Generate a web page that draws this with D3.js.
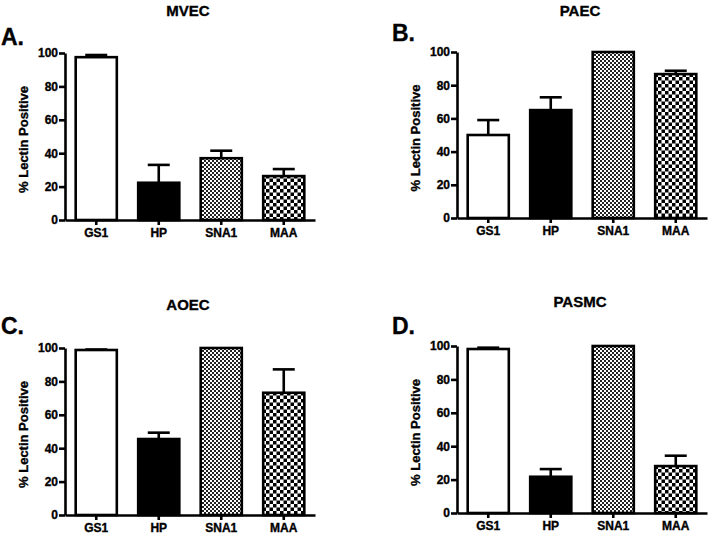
<!DOCTYPE html>
<html>
<head>
<meta charset="utf-8">
<script src="https://cdn.jsdelivr.net/npm/d3@7"></script>
<style>
  html, body { margin: 0; padding: 0; background: #fff; }
  svg { display: block; font-family: "Liberation Sans", Arial, Helvetica, sans-serif; font-weight: bold; }
  svg text { font-weight: bold; stroke: #000; stroke-width: 0.35px; fill: #000; }
</style>
</head>
<body>
<svg id="chart" width="709" height="535"></svg>
<script>
// ---- data ----
const categories = ["GS1", "HP", "SNA1", "MAA"];
const yTicks = [0, 20, 40, 60, 80, 100];
const panelTitles = ["MVEC", "PAEC", "AOEC", "PASMC"];
const panelLetters = ["A.", "B.", "C.", "D."];
const yLabel = "% Lectin Positive";

const mvecMeans  = [97.5, 22.3, 37.0, 26.3];
const mvecErr    = [1.3, 10.7, 4.5, 4.2];
const paecMeans  = [50.0, 65.0, 100.0, 86.7];
const paecErr    = [9.0, 7.7, 0, 2.0];
const aoecMeans  = [98.8, 45.5, 100.0, 73.2];
const aoecErr    = [0.3, 3.8, 0, 14.0];
const pasmcMeans = [98.2, 21.7, 100.0, 28.1];
const pasmcErr   = [0.8, 4.6, 0, 6.2];

const allMeans = [mvecMeans, paecMeans, aoecMeans, pasmcMeans];
const allErr = [mvecErr, paecErr, aoecErr, pasmcErr];

// ---- layout (pixels) ----
const layouts = [
  { ax: 65,  y0: 220, y100: 53,  xEnd: 315, titleY: 16,  letterX: 1,   letterY: 45,  labelY: 237 },
  { ax: 457, y0: 218, y100: 52,  xEnd: 707, titleY: 16,  letterX: 392, letterY: 41,  labelY: 235 },
  { ax: 65,  y0: 515, y100: 348, xEnd: 315, titleY: 310, letterX: 1,   letterY: 334, labelY: 532 },
  { ax: 457, y0: 513, y100: 346, xEnd: 707, titleY: 307, letterX: 392, letterY: 334, labelY: 530 }
];

const svg = d3.select("#chart");
const defs = svg.append("defs");

// fine checker for SNA1
const p1 = defs.append("pattern").attr("id", "fineCheck")
  .attr("patternUnits", "userSpaceOnUse").attr("width", 4).attr("height", 4);
p1.append("rect").attr("width", 4).attr("height", 4).attr("fill", "#fff");
p1.append("rect").attr("x", 0).attr("y", 0).attr("width", 2).attr("height", 2).attr("fill", "#222");
p1.append("rect").attr("x", 2).attr("y", 2).attr("width", 2).attr("height", 2).attr("fill", "#222");

// coarse checker for MAA
const p2 = defs.append("pattern").attr("id", "coarseCheck")
  .attr("patternUnits", "userSpaceOnUse").attr("width", 7).attr("height", 7);
p2.append("rect").attr("width", 7).attr("height", 7).attr("fill", "#fff");
p2.append("rect").attr("x", 0).attr("y", 0).attr("width", 3.5).attr("height", 3.5).attr("fill", "#000");
p2.append("rect").attr("x", 3.5).attr("y", 3.5).attr("width", 3.5).attr("height", 3.5).attr("fill", "#000");

const fills = { "GS1": "#fff", "HP": "#000", "SNA1": "url(#fineCheck)", "MAA": "url(#coarseCheck)" };

layouts.forEach((L, i) => {
  const means = allMeans[i];
  const errs = allErr[i];
  const data = categories.map((c, k) => ({ cat: c, mean: means[k], err: errs[k] }));

  const x = d3.scaleBand().domain(categories).range([L.ax, L.xEnd])
    .paddingInner(0.31).paddingOuter(0.155);
  const y = d3.scaleLinear().domain([0, 100]).range([L.y0, L.y100]);

  const g = svg.append("g");

  // title and letter
  g.append("text").attr("x", (L.ax + L.xEnd) / 2 - 2).attr("y", L.titleY)
    .attr("text-anchor", "middle").attr("font-size", 15).text(panelTitles[i]);
  g.append("text").attr("x", L.letterX).attr("y", L.letterY)
    .attr("font-size", 23).text(panelLetters[i]);

  // y label
  g.append("text")
    .attr("transform", `translate(${L.ax - 37},${(L.y0 + L.y100) / 2 + 3}) rotate(-90)`)
    .attr("text-anchor", "middle").attr("font-size", 13).text(yLabel);

  // bars
  g.selectAll("rect.bar").data(data).enter().append("rect")
    .attr("class", "bar")
    .attr("x", d => x(d.cat) + 1)
    .attr("width", x.bandwidth() - 2)
    .attr("y", d => y(d.mean))
    .attr("height", d => y(0) - y(d.mean))
    .attr("fill", d => fills[d.cat])
    .attr("stroke", "#000").attr("stroke-width", 2.6);

  // error bars (upper only)
  const eb = data.filter(d => d.err > 0);
  g.selectAll("line.ev").data(eb).enter().append("line")
    .attr("x1", d => x(d.cat) + x.bandwidth() / 2)
    .attr("x2", d => x(d.cat) + x.bandwidth() / 2)
    .attr("y1", d => y(d.mean))
    .attr("y2", d => y(d.mean + d.err))
    .attr("stroke", "#000").attr("stroke-width", 2.6);
  g.selectAll("line.ec").data(eb).enter().append("line")
    .attr("x1", d => x(d.cat) + x.bandwidth() / 2 - 11)
    .attr("x2", d => x(d.cat) + x.bandwidth() / 2 + 11)
    .attr("y1", d => y(d.mean + d.err))
    .attr("y2", d => y(d.mean + d.err))
    .attr("stroke", "#000").attr("stroke-width", 2.6);

  // axes
  const yAxis = g.append("g").attr("transform", `translate(${L.ax},0)`)
    .call(d3.axisLeft(y).tickValues(yTicks).tickSize(6).tickSizeOuter(0).tickPadding(1));
  const xAxis = g.append("g").attr("transform", `translate(0,${L.y0})`)
    .call(d3.axisBottom(x).tickSize(5).tickSizeOuter(0).tickPadding(3));

  [yAxis, xAxis].forEach(a => {
    a.select(".domain").attr("stroke", "#000").attr("stroke-width", 2.6);
    a.selectAll(".tick line").attr("stroke", "#000").attr("stroke-width", 2.6);
    a.selectAll("text").attr("fill", "#000")
      .attr("font-family", "'Liberation Sans', Arial, sans-serif").attr("font-weight", "bold");
  });
  yAxis.selectAll("text").attr("font-size", 12);
  xAxis.selectAll("text").attr("font-size", 12);
  xAxis.selectAll(".tick text").attr("y", L.labelY - L.y0).attr("dy", 0);
});
</script>
</body>
</html>
